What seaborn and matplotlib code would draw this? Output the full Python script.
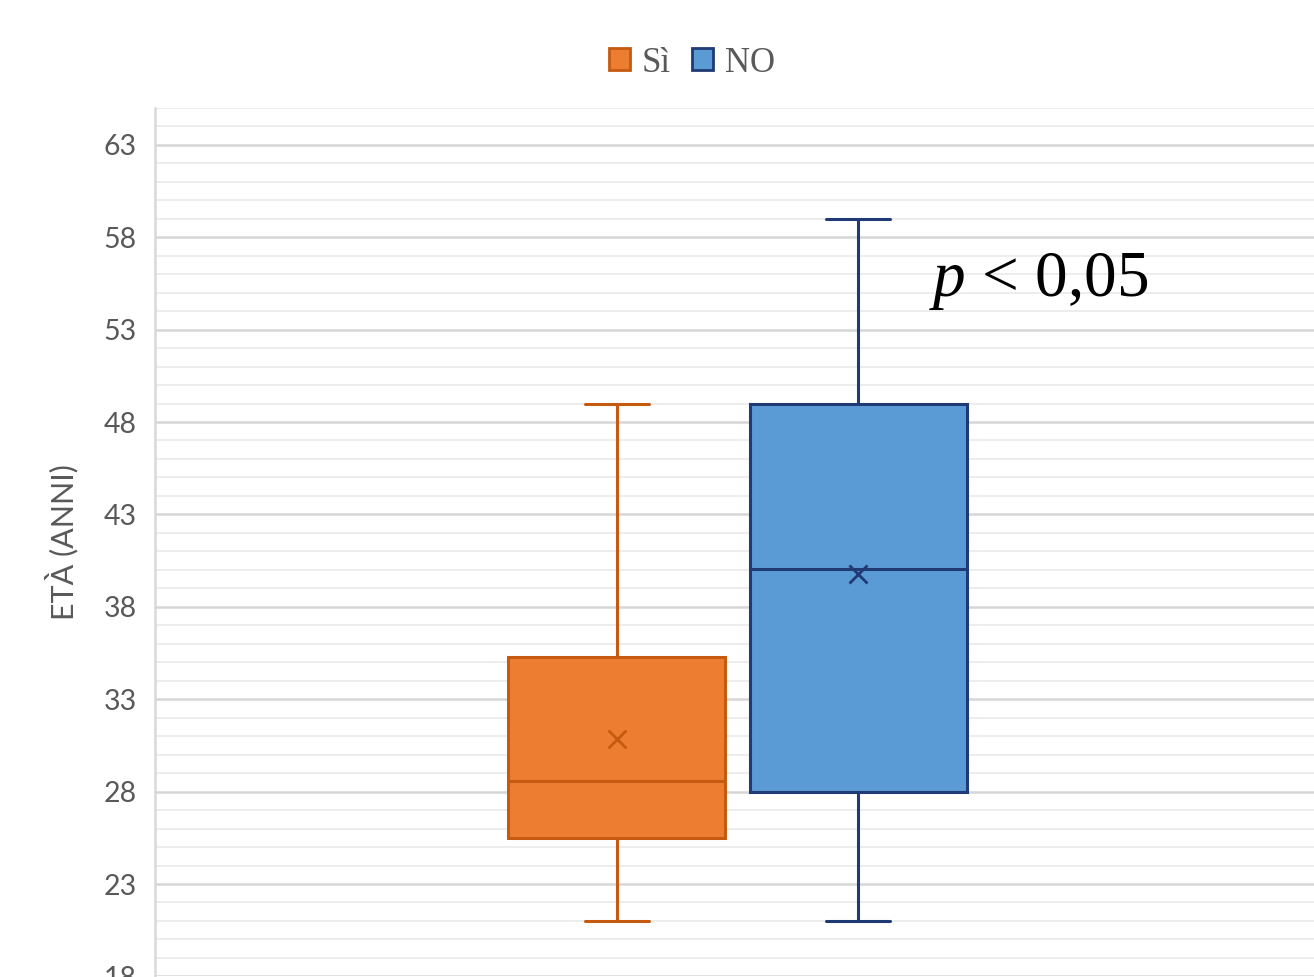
import numpy as np
import pandas as pd
import seaborn as sns
import matplotlib
matplotlib.use("Agg")
import matplotlib.pyplot as plt
from matplotlib.patches import Patch
from matplotlib.ticker import MultipleLocator

# ---- data ----
groups = ["Sì", "NO"]
whisker_low = [21.0, 21.0]
q1 = [25.5, 28.0]
median = [28.6, 40.05]
q3 = [35.3, 49.0]
whisker_high = [49.0, 59.0]
mean = [30.85, 39.75]
y_ticks = [18, 23, 28, 33, 38, 43, 48, 53, 58, 63]
y_label = "ETÀ (ANNI)"
annotation = r"$p$ < 0,05"

fills = ["#ED7D31", "#5B9BD5"]
edges = ["#C55A11", "#203A75"]

sns.set_theme(style="white")
plt.rcParams["font.family"] = ["Lato", "DejaVu Sans"]
plt.rcParams["mathtext.fontset"] = "custom"
plt.rcParams["mathtext.it"] = "Liberation Serif:italic"
plt.rcParams["mathtext.rm"] = "Liberation Serif"

fig = plt.figure(figsize=(13.14, 9.77), dpi=100)
ax = fig.add_axes([155 / 1314, 0.0006, 1165 / 1314, 0.889])

df = pd.DataFrame({"group": groups, "whislo": whisker_low, "q1": q1,
                   "med": median, "q3": q3, "whishi": whisker_high, "mean": mean})

slot = 0.2075
box_w = slot * 0.9
offsets = (np.arange(len(groups)) - (len(groups) - 1) / 2) * slot

for i, row in df.iterrows():
    stats = [dict(label=row.group, whislo=row.whislo, q1=row.q1, med=row.med,
                  q3=row.q3, whishi=row.whishi, mean=row["mean"], fliers=[])]
    ax.bxp(stats, positions=[offsets[i]], widths=[box_w], capwidths=[0.055],
           patch_artist=True, showmeans=True, showfliers=False,
           boxprops=dict(facecolor=fills[i], edgecolor=edges[i], linewidth=2.2),
           medianprops=dict(color=edges[i], linewidth=2.2),
           whiskerprops=dict(color=edges[i], linewidth=2.2),
           capprops=dict(color=edges[i], linewidth=2.2),
           meanprops=dict(marker="x", markeredgecolor=edges[i], markersize=13,
                          markeredgewidth=2.0),
           manage_ticks=False, zorder=3)

ax.set_xlim(-0.5, 0.5)
ax.set_ylim(18, 65)
ax.set_xticks([])
ax.set_yticks(y_ticks)
ax.yaxis.set_minor_locator(MultipleLocator(1))
ax.grid(which="major", axis="y", color="#d6d6d6", linewidth=1.8, zorder=0)
ax.grid(which="minor", axis="y", color="#ededed", linewidth=1.4, zorder=0)
ax.set_axisbelow(True)
for s in ["top", "right", "bottom"]:
    ax.spines[s].set_visible(False)
ax.spines["left"].set_color("#d9d9d9")
ax.spines["left"].set_linewidth(1.8)
ax.tick_params(axis="y", which="both", length=0, pad=13, labelsize=20.5,
               labelcolor="#595959")
ax.set_ylabel(y_label, fontsize=22, color="#595959", labelpad=18)

ax.text(0.259, 55.6, annotation, fontsize=47, family="Liberation Serif",
        ha="center", va="center", color="black")

handles = [Patch(facecolor=fills[i], edgecolor=edges[i], linewidth=2, label=g)
           for i, g in enumerate(groups)]
fig.legend(handles=handles, loc="center", bbox_to_anchor=(692 / 1314, 1 - 63 / 977),
           ncol=2, frameon=False, prop={"family": "Liberation Serif", "size": 25},
           labelcolor="#595959", handlelength=0.6, handleheight=0.6,
           handletextpad=0.35, columnspacing=0.6)

fig.savefig("out.png", dpi=100)
